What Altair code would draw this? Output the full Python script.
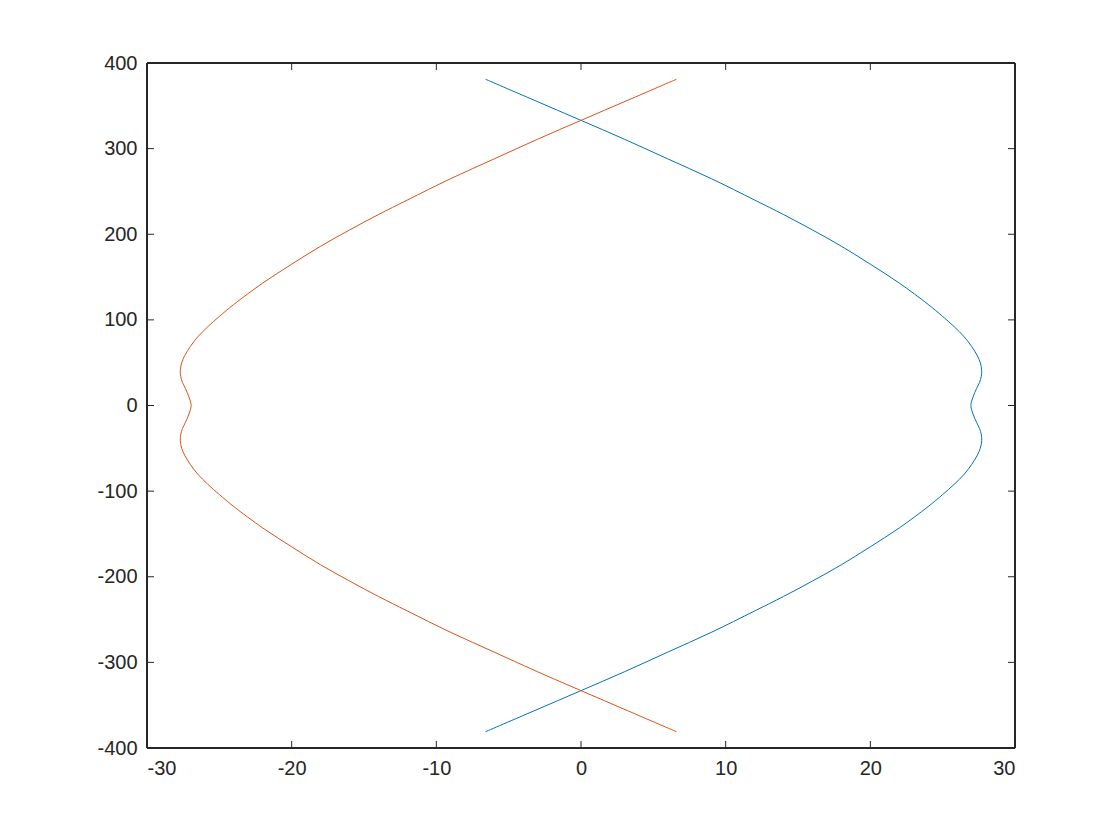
import altair as alt
import pandas as pd

# Values (path order, top to bottom)
y_vals = [381, 357, 333, 311, 288, 265, 240, 223, 205, 186, 165, 143, 118, 104, 92, 80, 69, 58, 50, 41,
          34, 27, 20, 10, 0, -10, -20, -27, -34, -41, -50, -58, -69, -80, -92, -104, -118, -143, -165,
          -186, -205, -223, -240, -265, -288, -311, -333, -357, -381]
blue_x = [-6.6, -3.3, 0.0, 3.0, 6.0, 9.0, 12.0, 14.0, 16.0, 18.0, 20.0, 22.0, 24.0, 25.0, 25.8, 26.5,
          27.0, 27.4, 27.6, 27.7, 27.67, 27.55, 27.35, 27.1, 26.95, 27.1, 27.35, 27.55, 27.67, 27.7,
          27.6, 27.4, 27.0, 26.5, 25.8, 25.0, 24.0, 22.0, 20.0, 18.0, 16.0, 14.0, 12.0, 9.0, 6.0, 3.0,
          0.0, -3.3, -6.6]
orange_x = [6.6, 3.3, 0.0, -3.0, -6.0, -9.0, -12.0, -14.0, -16.0, -18.0, -20.0, -22.0, -24.0, -25.0,
            -25.8, -26.5, -27.0, -27.4, -27.6, -27.7, -27.67, -27.55, -27.35, -27.1, -26.95, -27.1,
            -27.35, -27.55, -27.67, -27.7, -27.6, -27.4, -27.0, -26.5, -25.8, -25.0, -24.0, -22.0,
            -20.0, -18.0, -16.0, -14.0, -12.0, -9.0, -6.0, -3.0, 0.0, 3.3, 6.6]

x_ticks = [-30, -20, -10, 0, 10, 20, 30]
y_ticks = [-400, -300, -200, -100, 0, 100, 200, 300, 400]

W, H = 868, 685
TICK = 7
AX_COLOR = "#262626"
FONT = "Liberation Sans"
FS = 20

rows = []
for i, (y, bx) in enumerate(zip(y_vals, blue_x)):
    rows.append({"series": "blue", "idx": i, "x": bx, "y": y})
for i, (y, ox) in enumerate(zip(y_vals, orange_x)):
    rows.append({"series": "orange", "idx": i, "x": ox, "y": y})
df = pd.DataFrame(rows)

xscale = alt.Scale(domain=[-30, 30], nice=False, zero=False)
yscale = alt.Scale(domain=[-400, 400], nice=False, zero=False)

x_axis = alt.Axis(values=x_ticks, title=None, grid=False, ticks=False, domain=False, tickSize=0,
                  labelPadding=10, labelFontSize=FS, labelFont=FONT, labelColor=AX_COLOR,
                  labelExpr="'' + datum.value")
y_axis = alt.Axis(values=y_ticks, title=None, grid=False, ticks=False, domain=False, tickSize=0,
                  labelPadding=10, labelFontSize=FS, labelFont=FONT, labelColor=AX_COLOR,
                  labelExpr="'' + datum.value")

lines = alt.Chart(df).mark_line(strokeWidth=1, interpolate="catmull-rom").encode(
    x=alt.X("x:Q", scale=xscale, axis=x_axis),
    y=alt.Y("y:Q", scale=yscale, axis=y_axis),
    color=alt.Color("series:N", scale=alt.Scale(domain=["blue", "orange"],
                                                range=["#0072BD", "#D95319"]), legend=None),
    detail="series:N",
    order=alt.Order("idx:Q"),
)

xt = pd.DataFrame({"v": x_ticks})
yt = pd.DataFrame({"v": y_ticks})

xt_bottom = alt.Chart(xt).mark_rule(color=AX_COLOR, strokeWidth=1).encode(
    x=alt.X("v:Q", scale=xscale, axis=x_axis), y=alt.value(H), y2=alt.value(H - TICK))
xt_top = alt.Chart(xt).mark_rule(color=AX_COLOR, strokeWidth=1).encode(
    x=alt.X("v:Q", scale=xscale, axis=x_axis), y=alt.value(0), y2=alt.value(TICK))
yt_left = alt.Chart(yt).mark_rule(color=AX_COLOR, strokeWidth=1).encode(
    y=alt.Y("v:Q", scale=yscale, axis=y_axis), x=alt.value(0), x2=alt.value(TICK))
yt_right = alt.Chart(yt).mark_rule(color=AX_COLOR, strokeWidth=1).encode(
    y=alt.Y("v:Q", scale=yscale, axis=y_axis), x=alt.value(W), x2=alt.value(W - TICK))

frame = alt.Chart(xt).mark_rect(fill=None, stroke=AX_COLOR, strokeWidth=1).encode(
    x=alt.value(0), x2=alt.value(W), y=alt.value(0), y2=alt.value(H))

chart = alt.layer(lines, xt_bottom, xt_top, yt_left, yt_right, frame).properties(
    width=W, height=H,
    autosize=alt.AutoSizeParams(type="none"),
    padding={"left": 139, "top": 55, "right": 97, "bottom": 84},
).configure_view(strokeWidth=0).configure_axis(
    labelFontSize=FS, labelFont=FONT, labelColor=AX_COLOR
).configure(background="white")

chart.save("out.html", embed_options={"renderer": "svg", "actions": False})
